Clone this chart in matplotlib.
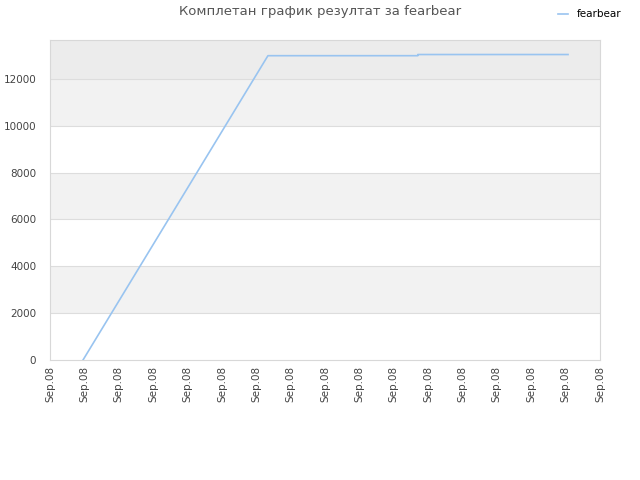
import numpy as np
import matplotlib.pyplot as plt

# x positions are in tick slots (17 slots, all labelled "Sep.08")
tick_labels = ["Sep.08"] * 17
x_vals = [0.96, 6.34, 10.7, 10.7, 15.07]
y_vals = [0, 12990, 12990, 13040, 13040]

fig = plt.figure(figsize=(6.4, 4.8), dpi=100)
ax = fig.add_axes([50 / 640, 1 - 360 / 480, 550 / 640, 320 / 480])

ymax = 13660
# alternating background bands
for lo, hi, c in [(2000, 4000, '#f2f2f2'), (6000, 8000, '#f2f2f2'),
                  (10000, 12000, '#f2f2f2'), (12000, ymax, '#ececec')]:
    ax.axhspan(lo, hi, color=c, zorder=0, lw=0)
for y in range(2000, 13000, 2000):
    ax.axhline(y, color='#dddddd', lw=0.8, zorder=1)

ax.plot(x_vals, y_vals, color='#99c4f0', lw=1.2, label='fearbear', zorder=3)

ax.set_xlim(0, 16)
ax.set_ylim(0, ymax)
ax.set_xticks(np.arange(17))
ax.set_xticklabels(tick_labels, rotation=90, fontsize=7.5, color='#444444')
ax.set_yticks(range(0, 13000, 2000))
ax.tick_params(axis='y', labelsize=7.5, colors='#444444', length=0, pad=10)
ax.tick_params(axis='x', length=0, pad=4)
for s in ax.spines.values():
    s.set_color('#d8d8d8')

fig.text(0.5, 1 - 12 / 480, "Комплетан график резултат за fearbear",
         ha='center', va='center', fontsize=9.5, color='#555555')
fig.legend(loc='upper right', bbox_to_anchor=(0.985, 1.0), frameon=False,
           fontsize=7.5, handlelength=1.0, handletextpad=0.8)

plt.savefig('out.png', dpi=100)
